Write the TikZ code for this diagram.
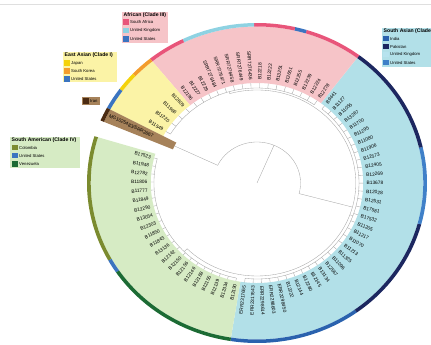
\documentclass[tikz,border=0pt]{standalone}
\usepackage{fontspec}
\setmainfont{Liberation Sans}
\usepackage{tikz}

\definecolor{afrbg}{HTML}{F6C4C8}
\definecolor{easbg}{HTML}{FBF3A6}
\definecolor{irnbg}{HTML}{A6825A}
\definecolor{samerbg}{HTML}{D6EBC4}
\definecolor{sasbg}{HTML}{B2E0E8}
\definecolor{safrica}{HTML}{E8557A}
\definecolor{ukafr}{HTML}{8ED2E2}
\definecolor{usa}{HTML}{3B74C0}
\definecolor{japan}{HTML}{F4D20A}
\definecolor{korea}{HTML}{F39C2C}
\definecolor{iran}{HTML}{4B2B12}
\definecolor{colombia}{HTML}{7B8B2F}
\definecolor{venez}{HTML}{1C6B34}
\definecolor{india}{HTML}{2A62AE}
\definecolor{pakistan}{HTML}{1C2760}
\definecolor{uksas}{HTML}{B7E3EE}
\definecolor{ussas}{HTML}{3F80C8}

\newcommand{\wedgefill}[5]{\fill[#1] (#2:#4) arc[start angle=#2,end angle=#3,radius=#4] -- (#3:#5) arc[start angle=#3,end angle=#2,radius=#5] -- cycle;}
\newcommand{\stripseg}[3]{\wedgefill{#1}{#2}{#3}{156.5}{160}}
\newcommand{\tiplab}[4][103]{%
	\pgfmathtruncatemacro\tipflip{cos(#3)<0}%
	\ifnum\tipflip=1
		\pgfmathsetmacro\tiprot{#3+180}%
		\node[tip,rotate=\tiprot,anchor=east] (#2) at (#3:#1) {#4};
	\else
		\node[tip,rotate=#3,anchor=west] (#2) at (#3:#1) {#4};
	\fi}

\tikzset{
	branch/.style={draw=gray!70,line width=0.3pt},
	tip/.style={font=\fontsize{4.1}{5}\selectfont,inner sep=0pt},
	legtitle/.style={font=\bfseries\fontsize{4.4}{5}\selectfont,inner sep=0pt,anchor=west},
	legitem/.style={font=\fontsize{3.6}{4}\selectfont,inner sep=0pt,anchor=west},
	key/.style={minimum width=4.5,minimum height=4.5,inner sep=0pt}
}

\begin{document}
\begin{tikzpicture}[x=0.03cm,y=0.03cm]
	\useasboundingbox (0,0) rectangle (431,344);
	\draw[gray!25,line width=0.6pt] (0,340) -- (431,340);

	\begin{scope}[shift={(257,161)},xscale=1.0625]
		\wedgefill{sasbg}{-99}{53}{100}{156.5}
		\wedgefill{afrbg}{53}{129}{100}{156.5}
		\wedgefill{easbg}{129}{152}{100}{156.5}
		\wedgefill{irnbg}{152}{157}{86}{156.5}
		\wedgefill{samerbg}{163}{261}{100}{156.5}

		\stripseg{india}{-99}{-54}
		\stripseg{pakistan}{-54}{-15}
		\stripseg{ussas}{-15}{13}
		\stripseg{pakistan}{13}{53}
		\stripseg{safrica}{53}{73}
		\stripseg{usa}{73}{77}
		\stripseg{safrica}{77}{91}
		\stripseg{ukafr}{91}{116}
		\stripseg{safrica}{116}{129}
		\stripseg{korea}{129}{137}
		\stripseg{japan}{137}{144}
		\stripseg{usa}{144}{152}
		\stripseg{iran}{152}{157}
		\stripseg{colombia}{163}{209}
		\stripseg{usa}{209}{214}
		\stripseg{venez}{214}{261}

		\coordinate (root) at (0,0);
		\draw[branch] (root) -- (67:41);
		\draw[branch] (154.5:41) arc[start angle=154.5,end angle=-15,radius=41];
		\draw[branch] (154.5:41) -- (154.5:86);
		\draw[branch] (-15:41) -- (-15:93);
		\draw[branch] (-135:93) arc[start angle=-135,end angle=106,radius=93];
		\draw[branch] (-20:93) -- (-20:96);
		\draw[branch] (-96.7:96) arc[start angle=-96.7,end angle=50.5,radius=96];
		\draw[branch] (-135:93) -- (-135:97);
		\draw[branch] (165.5:97) arc[start angle=165.5,end angle=258.5,radius=97];
		\draw[branch] (106:93) -- (106:95);
		\draw[branch] (55.5:95) arc[start angle=55.5,end angle=149,radius=95];

		\foreach \lab [count=\i] in {B9441,B11127,B11055,B13267,B11700,B11295,B11080,B11906,B12573,B12405,B12269,B13678,B12028,B12531,B17581,B17532,B11205,B11217,B11070,B11213,B11325,B11096,B12567,B13134,B12145,B12280,B12144,B12222,ERR2298450,ERR2298603,ERR2298614,ERR2317643,ERR2317655}{
			\pgfmathsetmacro\ang{50.5-4.6*(\i-1)}
			\draw[branch] (\ang:96) -- (\ang:100);
			\tiplab{sas\i}{\ang}{\lab}
		}
		\foreach \lab [count=\i] in {B12278,B12224,B12239,B12255,B12651,B13251,B12222,B12218,SRR7276436,SRR7276449,SRR7276458,SRR7276471,SRR7276484,B12229,B12227,B12196}{
			\pgfmathsetmacro\ang{55.5+4.733*(\i-1)}
			\draw[branch] (\ang:95) -- (\ang:100);
			\tiplab{afr\i}{\ang}{\lab}
		}
		\foreach \lab [count=\i] in {B12609,B11966,B11220,B11549}{
			\pgfmathsetmacro\ang{132+5.667*(\i-1)}
			\draw[branch] (\ang:95) -- (\ang:100);
			\tiplab{eas\i}{\ang}{\lab}
		}
		\tiplab[108]{irn1}{154.5}{MG1025483/SRR2867}
		\foreach \lab [count=\i] in {B17523,B11948,B12782,B11806,B11777,B11849,B12290,B13054,B12303,B11850,B11843,B13136,B12142,B12150,B12156,B12146,B12188,B12155,B12139,B12334,B12190}{
			\pgfmathsetmacro\ang{165.5+4.65*(\i-1)}
			\draw[branch] (\ang:97) -- (\ang:100);
			\tiplab{sam\i}{\ang}{\lab}
		}
	\end{scope}

	\fill[afrbg] (122,301) rectangle (168,332);
	\node[legtitle] (afrT) at (123.5,328.5) {African (Clade III)};
	\node[key,fill=safrica] (afr1k) at (126,322) {};
	\node[key,fill=ukafr] (afr2k) at (126,313.5) {};
	\node[key,fill=usa] (afr3k) at (126,305) {};
	\node[legitem] (afr1t) at (130,322) {South Africa};
	\node[legitem] (afr2t) at (130,313.5) {United Kingdom};
	\node[legitem] (afr3t) at (130,305) {United States};

	\fill[easbg] (63,262) rectangle (117,292);
	\node[legtitle] (easT) at (64.5,288.5) {East Asian (Clade I)};
	\node[key,fill=japan] (eas1k) at (67,281) {};
	\node[key,fill=korea] (eas2k) at (67,273) {};
	\node[key,fill=usa] (eas3k) at (67,265) {};
	\node[legitem] (eas1t) at (71,281) {Japan};
	\node[legitem] (eas2t) at (71,273) {South Korea};
	\node[legitem] (eas3t) at (71,265) {United States};

	\fill[irnbg] (82,239) rectangle (100,247);
	\node[key,fill=iran] (irnk) at (86,243) {};
	\node[legitem] (irnt) at (90,243) {Iran};

	\fill[samerbg] (10,176) rectangle (80,207);
	\node[legtitle] (samT) at (11.5,203.5) {South American (Clade IV)};
	\node[key,fill=colombia] (sam1k) at (15,196.5) {};
	\node[key,fill=usa] (sam2k) at (15,188.3) {};
	\node[key,fill=venez] (sam3k) at (15,180) {};
	\node[legitem] (sam1t) at (19,196.5) {Colombia};
	\node[legitem] (sam2t) at (19,188.3) {United States};
	\node[legitem] (sam3t) at (19,180) {Venezuela};

	\fill[sasbg] (382,277) rectangle (440,316);
	\node[legtitle] (sasT) at (383.5,313) {South Asian (Clade II)};
	\node[key,fill=india] (sas1k) at (386,305.5) {};
	\node[key,fill=pakistan] (sas2k) at (386,297.3) {};
	\node[key,fill=uksas] (sas3k) at (386,289.5) {};
	\node[key,fill=ussas] (sas4k) at (386,281.3) {};
	\node[legitem] (sas1t) at (390,305.5) {India};
	\node[legitem] (sas2t) at (390,297.3) {Pakistan};
	\node[legitem] (sas3t) at (390,289.5) {United Kingdom};
	\node[legitem] (sas4t) at (390,281.3) {United States};
\end{tikzpicture}
\end{document}
